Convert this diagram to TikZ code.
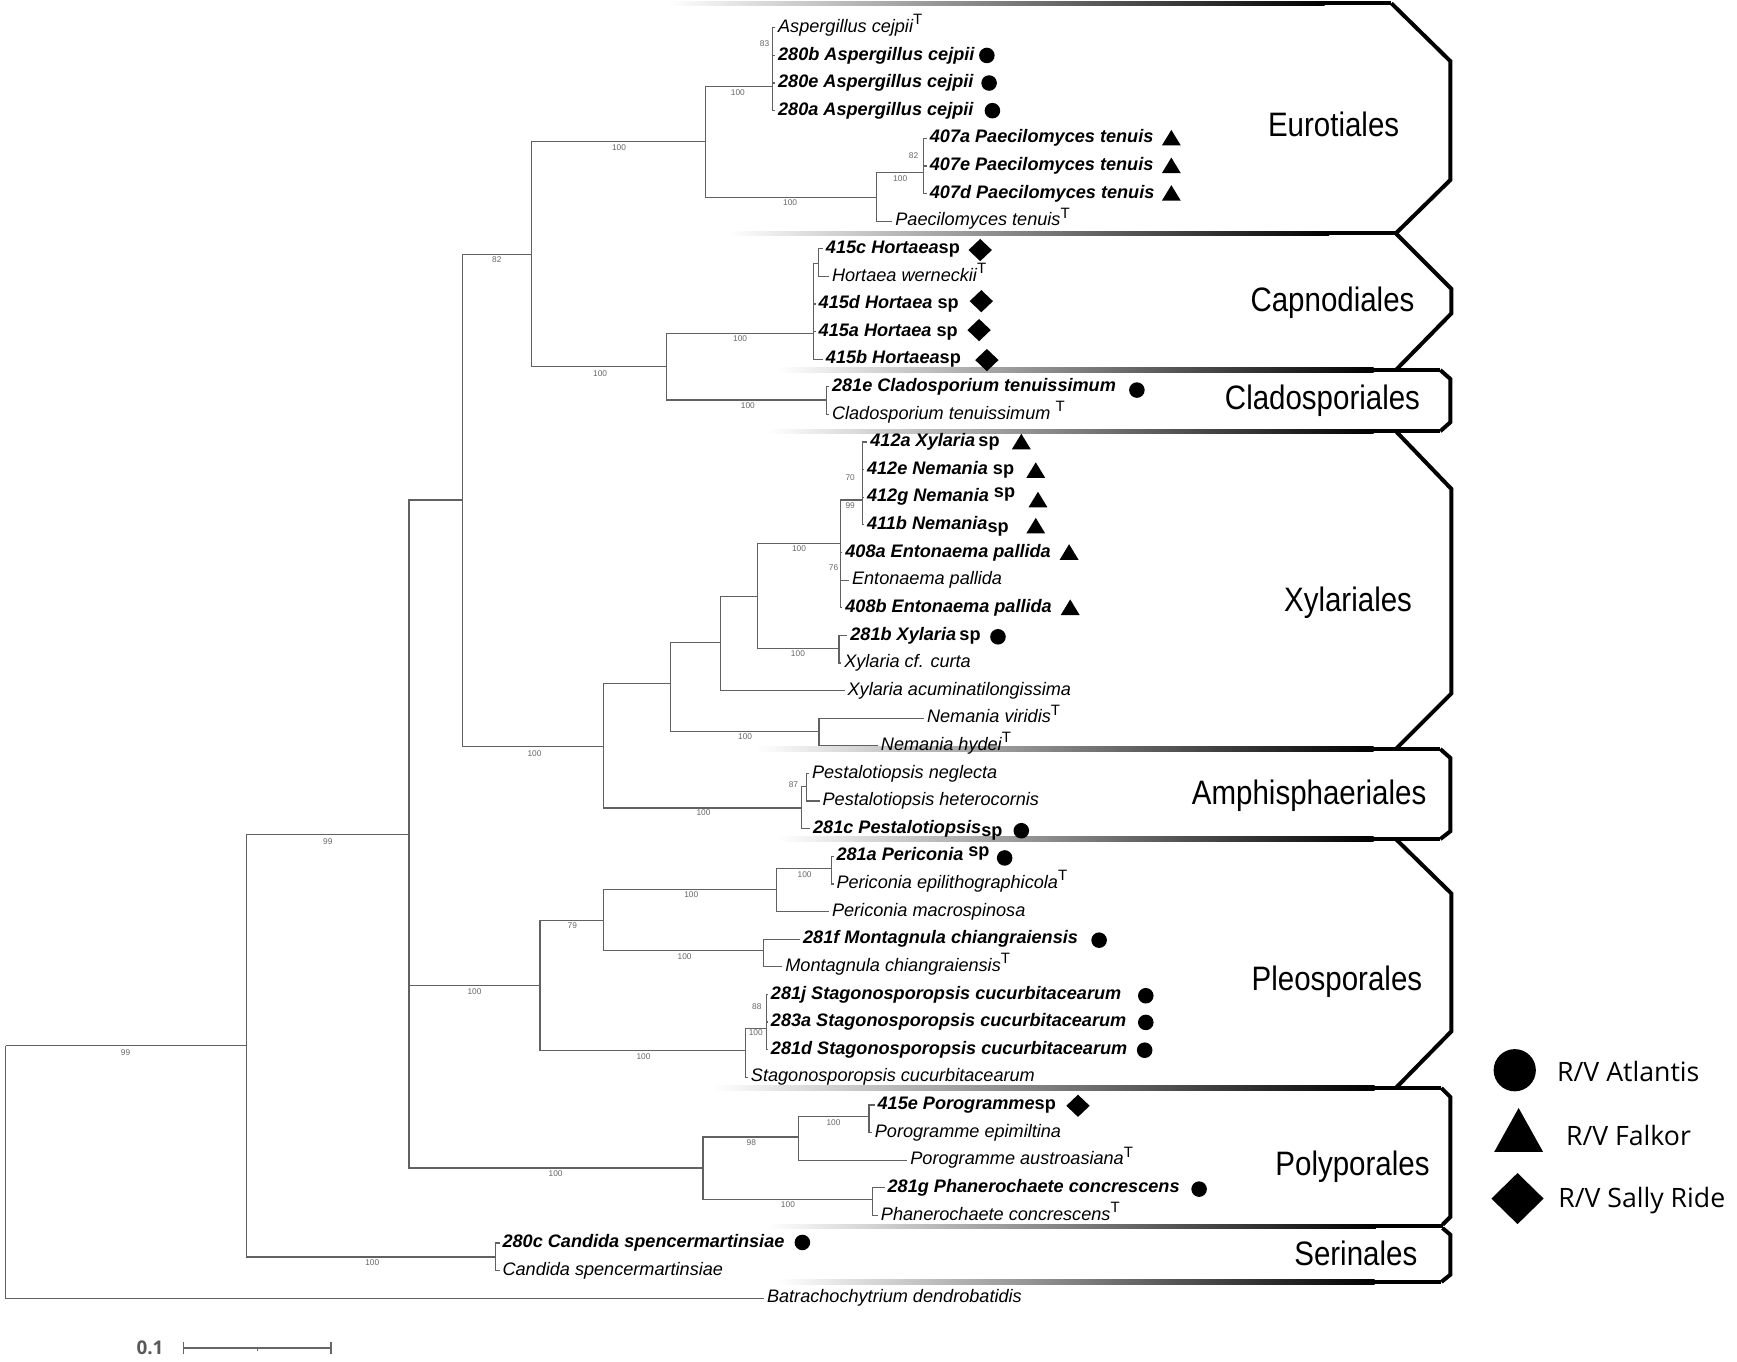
\documentclass[tikz,border=0pt]{standalone}
\usepackage{fontspec}
\setmainfont{Liberation Sans}
\newfontfamily\tipfont{Liberation Sans}
\newfontfamily\cladefont[FakeStretch=0.87]{Liberation Sans}
\newfontfamily\legfont{Open Sans}
\usetikzlibrary{calc}
\tikzset{
 branch/.style={draw=black!62, line width=1.1pt},
 tipit/.style={anchor=base west, inner sep=0pt, font=\tipfont\itshape\fontsize{16.3}{18}\selectfont},
 tipbf/.style={anchor=base west, inner sep=0pt, font=\tipfont\bfseries\itshape\fontsize{16.3}{18}\selectfont},
 boot/.style={font=\tipfont\fontsize{7.5}{8}\selectfont, text=black!60, inner sep=0pt},
 clade/.style={font=\cladefont\fontsize{30.5}{32}\selectfont, inner sep=0pt},
 legend/.style={font=\legfont\fontsize{24}{26}\selectfont, anchor=west, inner sep=0pt},
 outline/.style={line width=3.6pt, draw=black, line join=miter},
}
\newcommand\Tsup{\raisebox{7pt}{\fontsize{13.5}{13.5}\selectfont\upshape\mdseries T}}
\newcommand\spp{\textup{sp}}
\newcommand\spr{\raisebox{4pt}{\upshape sp}}
\newcommand\spl{\raisebox{-3pt}{\upshape sp}}
\newcommand\tip[5]{\node[#1] (#2) at (#3,#4+4.2) {#5};}
\newcommand\tl[2]{\draw[branch] (#1) |- ([xshift=-2.5pt,yshift=4.2pt]#2.base west);}
\newcommand\bn[2]{\draw[branch] (#1) |- (#2);}
\newcommand\cedge[3]{\shade[left color=white,right color=black] (#1,#3-1.9) rectangle (#2-60,#3+1.9);
 \fill[black] (#2-60.5,#3-1.9) rectangle (#2,#3+1.9);}
\newcommand\mdot[2]{\fill (#1,#2) circle[radius=7pt];}
\newcommand\mtri[2]{\fill (#1-8.5,#2+6.5) -- (#1+8.5,#2+6.5) -- (#1,#2-7.5) -- cycle;}
\newcommand\mdia[2]{\fill (#1-10.5,#2) -- (#1,#2-10) -- (#1+10.5,#2) -- (#1,#2+10) -- cycle;}
\begin{document}
\begin{tikzpicture}[x=1pt,y=-1pt]
\useasboundingbox (0,0) rectangle (1563,1225);
% ---------- clade frames ----------
\cedge{600}{1252}{3}
\cedge{655}{1256}{210}
\cedge{700}{1296}{333}
\cedge{690}{1296}{388}
\cedge{680}{1296}{674}
\cedge{700}{1296}{755}
\cedge{640}{1297}{979}
\cedge{690}{1298}{1103.5}
\cedge{700}{1297}{1153.5}
\draw[outline] (1252,3) -- (1305,55) -- (1305,162) -- (1256,210);
\draw[outline] (1256,210) -- (1306,260) -- (1306,282) -- (1256,333);
\draw[outline] (1296,333) -- (1305,341) -- (1305,380) -- (1296,388);
\draw[outline] (1256,388) -- (1306,440) -- (1306,624) -- (1256,674);
\draw[outline] (1296,674) -- (1305,682) -- (1305,748) -- (1296,755);
\draw[outline] (1256,755) -- (1306,804) -- (1306,928) -- (1256,979);
\draw[outline] (1297,979) -- (1305,987) -- (1305,1095) -- (1298,1102);
\draw[outline] (1298,1105) -- (1305,1111) -- (1305,1147) -- (1297,1153.5);
\node[clade] (cEur) at (1200,112) {Eurotiales};
\node[clade] (cCap) at (1199,272) {Capnodiales};
\node[clade] (cCla) at (1190,361) {Cladosporiales};
\node[clade] (cXyl) at (1213,542) {Xylariales};
\node[clade] (cAmp) at (1178,716) {Amphisphaeriales};
\node[clade] (cPle) at (1203,883) {Pleosporales};
\node[clade] (cPol) at (1217,1050) {Polyporales};
\node[clade] (cSer) at (1220,1128) {Serinales};
% ---------- internal nodes ----------
\coordinate (root) at (5,941);
\coordinate (nA) at (222,941);
\coordinate (nS) at (446,1131);
\coordinate (nB) at (368,751);
\coordinate (nN1) at (416,450);
\coordinate (nP) at (486,887);
\coordinate (nY) at (632.5,1051);
\coordinate (nN2) at (478,229);
\coordinate (nX0) at (543,672);
\coordinate (nE) at (635,127.5);
\coordinate (nC0) at (600,330);
\coordinate (nAsp) at (695,78);
\coordinate (nPae) at (789,177.6);
\coordinate (nP407) at (831,155.4);
\coordinate (nHort) at (732,300);
\coordinate (nHsub) at (736.5,237);
\coordinate (nClado) at (743.5,360);
\coordinate (nXa) at (603,615);
\coordinate (nPest) at (721,727);
\coordinate (nXb) at (648.5,578.4);
\coordinate (nNem) at (737,658);
\coordinate (nXc) at (681.5,536.4);
\coordinate (nXd) at (756,489);
\coordinate (nXe) at (755,583.5);
\coordinate (nX412) at (776,450);
\coordinate (nPsub) at (726,708);
\coordinate (nP1) at (543,828);
\coordinate (nStag) at (670.5,945.6);
\coordinate (nPer) at (698.5,800.4);
\coordinate (nMon) at (687,855.6);
\coordinate (nPer2) at (748,781.5);
\coordinate (nStag2) at (689.5,925.5);
\coordinate (nY1) at (718.5,1023);
\coordinate (nPhan) at (785,1079.4);
\coordinate (nY2) at (782,1004.4);
% ---------- tips ----------
\tip{tipit}{t0}{700}{25.0}{Aspergillus cejpii\Tsup}
\tip{tipbf}{t1}{700}{49.9}{280b Aspergillus cejpii}
\tip{tipbf}{t2}{700}{74.7}{280e Aspergillus cejpii}
\tip{tipbf}{t3}{700}{99.6}{280a Aspergillus cejpii}
\tip{tipbf}{t4}{836.5}{124.4}{407a Paecilomyces tenuis}
\tip{tipbf}{t5}{836.5}{149.3}{407e Paecilomyces tenuis}
\tip{tipbf}{t6}{836.5}{174.1}{407d Paecilomyces tenuis}
\tip{tipit}{t7}{805.5}{199.0}{Paecilomyces tenuis\Tsup}
\tip{tipbf}{t8}{743}{223.8}{415c Hortaea\spp}
\tip{tipit}{t9}{748.5}{248.7}{Hortaea werneckii\Tsup}
\tip{tipbf}{t10}{736.5}{273.5}{415d Hortaea\ \spp}
\tip{tipbf}{t11}{736.5}{298.4}{415a Hortaea\ \spp}
\tip{tipbf}{t12}{743}{323.2}{415b Hortaea\spp}
\tip{tipbf}{t13}{748.5}{348.1}{281e Cladosporium tenuissimum}
\tip{tipit}{t14}{748.5}{372.9}{Cladosporium tenuissimum \Tsup}
\tip{tipbf}{t15}{783}{397.8}{412a Xylaria\hspace{3pt}\spp}
\tip{tipbf}{t16}{780}{422.6}{412e Nemania\ \spp}
\tip{tipbf}{t17}{780}{447.5}{412g Nemania\ \spr}
\tip{tipbf}{t18}{780}{472.3}{411b Nemania\spl}
\tip{tipbf}{t19}{760.5}{497.2}{408a Entonaema pallida}
\tip{tipit}{t20}{766.5}{522.0}{Entonaema pallida}
\tip{tipbf}{t21}{760.5}{546.9}{408b Entonaema pallida}
\tip{tipbf}{t22}{765}{571.7}{281b Xylaria\hspace{3pt}\spp}
\tip{tipit}{t23}{759.5}{596.6}{Xylaria cf. curta}
\tip{tipit}{t24}{762.5}{621.4}{Xylaria acuminatilongissima}
\tip{tipit}{t25}{834}{646.3}{Nemania viridis\Tsup}
\tip{tipit}{t26}{792.5}{671.1}{Nemania hydei\Tsup}
\tip{tipit}{t27}{730.5}{696.0}{Pestalotiopsis neglecta}
\tip{tipit}{t28}{740}{720.8}{Pestalotiopsis heterocornis}
\tip{tipbf}{t29}{731.5}{745.7}{281c Pestalotiopsis\spl}
\tip{tipbf}{t30}{752.5}{770.5}{281a Periconia\ \spr}
\tip{tipit}{t31}{752.5}{795.4}{Periconia epilithographicola\Tsup}
\tip{tipit}{t32}{748.5}{820.2}{Periconia macrospinosa}
\tip{tipbf}{t33}{722.5}{845.1}{281f Montagnula chiangraiensis}
\tip{tipit}{t34}{706.5}{869.9}{Montagnula chiangraiensis\Tsup}
\tip{tipbf}{t35}{693.5}{894.8}{281j Stagonosporopsis cucurbitacearum}
\tip{tipbf}{t36}{693.5}{919.6}{283a Stagonosporopsis cucurbitacearum}
\tip{tipbf}{t37}{693.5}{944.5}{281d Stagonosporopsis cucurbitacearum}
\tip{tipit}{t38}{675.5}{969.3}{Stagonosporopsis cucurbitacearum}
\tip{tipbf}{t39}{789.5}{994.2}{415e Porogramme\spp}
\tip{tipit}{t40}{787}{1019.0}{Porogramme epimiltina}
\tip{tipit}{t41}{819}{1043.9}{Porogramme austroasiana\Tsup}
\tip{tipbf}{t42}{798.5}{1068.7}{281g Phanerochaete concrescens}
\tip{tipit}{t43}{792.5}{1093.6}{Phanerochaete concrescens\Tsup}
\tip{tipbf}{t44}{452}{1118.4}{280c Candida spencermartinsiae}
\tip{tipit}{t45}{452}{1143.3}{Candida spencermartinsiae}
\tip{tipit}{t46}{690}{1168.1}{Batrachochytrium dendrobatidis}
% ---------- branches ----------
\bn{root}{nA} \tl{root}{t46}
\bn{nA}{nB} \bn{nA}{nS}
\tl{nS}{t44} \tl{nS}{t45}
\bn{nB}{nN1} \bn{nB}{nP} \bn{nB}{nY}
\bn{nN1}{nN2} \bn{nN1}{nX0}
\bn{nN2}{nE} \bn{nN2}{nC0}
\bn{nE}{nAsp} \bn{nE}{nPae}
\tl{nAsp}{t0} \tl{nAsp}{t1} \tl{nAsp}{t2} \tl{nAsp}{t3}
\bn{nPae}{nP407} \tl{nPae}{t7}
\tl{nP407}{t4} \tl{nP407}{t5} \tl{nP407}{t6}
\bn{nC0}{nHort} \bn{nC0}{nClado}
\bn{nHort}{nHsub} \tl{nHsub}{t8} \tl{nHsub}{t9}
\tl{nHort}{t10} \tl{nHort}{t11} \tl{nHort}{t12}
\tl{nClado}{t13} \tl{nClado}{t14}
\bn{nX0}{nXa} \bn{nX0}{nPest}
\bn{nXa}{nXb} \bn{nXa}{nNem}
\bn{nXb}{nXc} \tl{nXb}{t24}
\bn{nXc}{nXd} \bn{nXc}{nXe}
\bn{nXd}{nX412} \tl{nXd}{t19} \tl{nXd}{t20} \tl{nXd}{t21}
\tl{nX412}{t15} \tl{nX412}{t16} \tl{nX412}{t17} \tl{nX412}{t18}
\tl{nXe}{t22} \tl{nXe}{t23}
\tl{nNem}{t25} \tl{nNem}{t26}
\bn{nPest}{nPsub} \tl{nPest}{t29}
\tl{nPsub}{t27} \tl{nPsub}{t28}
\bn{nP}{nP1} \bn{nP}{nStag}
\bn{nP1}{nPer} \bn{nP1}{nMon}
\bn{nPer}{nPer2} \tl{nPer}{t32}
\tl{nPer2}{t30} \tl{nPer2}{t31}
\tl{nMon}{t33} \tl{nMon}{t34}
\bn{nStag}{nStag2} \tl{nStag}{t38}
\tl{nStag2}{t35} \tl{nStag2}{t36} \tl{nStag2}{t37}
\bn{nY}{nY1} \bn{nY}{nPhan}
\bn{nY1}{nY2} \tl{nY1}{t41}
\tl{nY2}{t39} \tl{nY2}{t40}
\tl{nPhan}{t42} \tl{nPhan}{t43}
% ---------- bootstrap values ----------
\node[boot] (b1) at (113,947) {99};
\node[boot] (b2) at (295,757) {99};
\node[boot] (b3) at (335,1136) {100};
\node[boot] (b4) at (447,234) {82};
\node[boot] (b5) at (557,133) {100};
\node[boot] (b6) at (664,83) {100};
\node[boot] (b7) at (688,39) {83};
\node[boot] (b8) at (711,182) {100};
\node[boot] (b9) at (810,161) {100};
\node[boot] (b10) at (822,140) {82};
\node[boot] (b11) at (540,336) {100};
\node[boot] (b12) at (666,305) {100};
\node[boot] (b13) at (673,365) {100};
\node[boot] (b14) at (481,678) {100};
\node[boot] (b15) at (719,494) {100};
\node[boot] (b16) at (765,430) {70};
\node[boot] (b17) at (765,455) {99};
\node[boot] (b18) at (750,511) {76};
\node[boot] (b19) at (718,588) {100};
\node[boot] (b20) at (670.5,663) {100};
\node[boot] (b21) at (633,731) {100};
\node[boot] (b22) at (714,706) {87};
\node[boot] (b23) at (427,892) {100};
\node[boot] (b24) at (515,833) {79};
\node[boot] (b25) at (622,805) {100};
\node[boot] (b26) at (616,861) {100};
\node[boot] (b27) at (724,787) {100};
\node[boot] (b28) at (579,951) {100};
\node[boot] (b29) at (681,906) {88};
\node[boot] (b30) at (680,929) {100};
\node[boot] (b31) at (500,1056) {100};
\node[boot] (b32) at (676,1028) {98};
\node[boot] (b33) at (750,1010) {100};
\node[boot] (b34) at (709,1084) {100};
% ---------- markers ----------
\mdot{888}{49.9} \mdot{890}{74.7} \mdot{893}{99.6}
\mtri{1054}{124.4} \mtri{1054}{149.3} \mtri{1054}{174.1}
\mdia{882}{225} \mdia{883}{271} \mdia{881}{297} \mdia{888}{324}
\mdot{1023}{351}
\mtri{919}{397.8} \mtri{932}{423.5} \mtri{934}{450} \mtri{932}{473.5}
\mtri{962}{497.2} \mtri{963}{546.9}
\mdot{898}{573}
\mdot{919}{747.5}
\mdot{904}{772}
\mdot{989}{846}
\mdot{1031}{896} \mdot{1031}{920} \mdot{1030}{945}
\mdia{970}{995}
\mdot{1079}{1070}
\mdot{722}{1118}
% ---------- legend ----------
\fill (1363,963) circle[radius=19pt];
\node[legend] (lA) at (1401,964) {R/V Atlantis};
\fill (1344.5,1036.5) -- (1388.5,1036.5) -- (1366.5,997) -- cycle;
\node[legend] (lF) at (1409,1021.5) {R/V Falkor};
\fill (1342,1078.5) -- (1365.5,1055.5) -- (1389,1078.5) -- (1365.5,1101.5) -- cycle;
\node[legend] (lS) at (1402,1080) {R/V Sally Ride};
% ---------- scale bar ----------
\node[font=\legfont\bfseries\fontsize{17}{18}\selectfont, text=black!65, inner sep=0pt] (sc) at (135,1213) {0.1};
\coordinate (s1) at (165,1213);
\coordinate (s2) at (298,1213);
\draw[black!60, line width=1.3pt] (s1) -- (s2);
\draw[black!60, line width=1.3pt] ([yshift=5pt]s1) -- ([yshift=-5pt]s1);
\draw[black!60, line width=1.3pt] ([yshift=5pt]s2) -- ([yshift=-5pt]s2);
\draw[black!60, line width=1pt] ($(s1)!0.5!(s2)$) -- ++(0,3);
\end{tikzpicture}
\end{document}
